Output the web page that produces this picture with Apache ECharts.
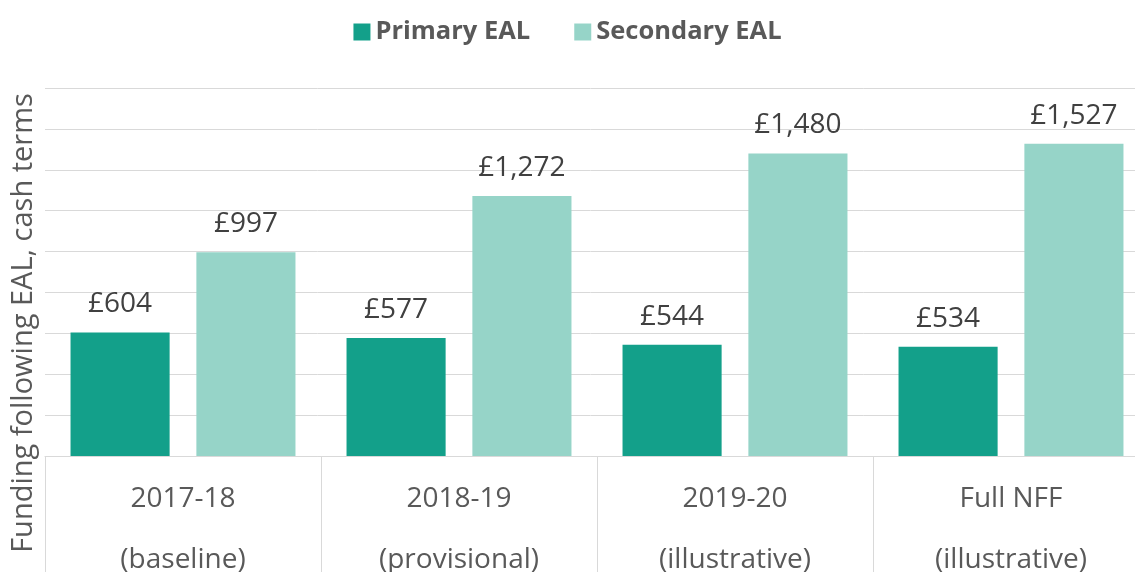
<!DOCTYPE html>
<html>
<head>
<meta charset="utf-8">
<script src="https://cdn.jsdelivr.net/npm/echarts@6/dist/echarts.min.js"></script>
<style>
  html, body { margin: 0; padding: 0; background: #fff; }
  #chart { width: 1135px; height: 572px; }
</style>
</head>
<body>
<div id="chart"></div>
<script>
// chart data
var categories = ['2017-18\n(baseline)', '2018-19\n(provisional)', '2019-20\n(illustrative)', 'Full NFF\n(illustrative)'];
var seriesNames = ['Primary EAL', 'Secondary EAL'];
var primaryValues = [604, 577, 544, 534];
var secondaryValues = [997, 1272, 1480, 1527];

var font = '"Open Sans", "Noto Sans", sans-serif';

function money(p) {
  return '£' + p.value.toLocaleString('en-GB');
}

var myChart = echarts.init(document.getElementById('chart'));
var option = {
  animation: false,
  textStyle: { fontFamily: font },
  legend: {
    top: 14,
    left: 'center',
    itemWidth: 17,
    itemHeight: 17,
    itemGap: 44,
    icon: 'rect',
    textStyle: { color: '#595959', fontSize: 25.5, fontWeight: 'bold', fontFamily: font },
    data: seriesNames
  },
  grid: { left: 45, right: -14, top: 88, bottom: 116, outerBoundsMode: 'none', containLabel: false },
  xAxis: {
    type: 'category',
    data: categories,
    axisLine: { lineStyle: { color: '#d9d9d9', width: 1 } },
    axisTick: { show: true, length: 130, lineStyle: { color: '#d9d9d9' } },
    axisLabel: { color: '#595959', fontSize: 28, lineHeight: 61, margin: 13, fontFamily: font }
  },
  yAxis: {
    type: 'value',
    min: 0,
    max: 1800,
    interval: 200,
    name: 'Funding following EAL, cash terms',
    nameLocation: 'middle',
    nameRotate: 90,
    nameGap: 7,
    nameTextStyle: { color: '#595959', fontSize: 29, fontFamily: font, padding: [0, 102, 0, 0] },
    axisLabel: { show: false },
    axisLine: { show: false },
    axisTick: { show: false },
    splitLine: { lineStyle: { color: '#d9d9d9' } }
  },
  series: [
    {
      name: seriesNames[0],
      type: 'bar',
      data: primaryValues,
      barGap: '27%',
      barCategoryGap: '18.5%',
      itemStyle: { color: '#13a08a' },
      label: { show: true, position: 'top', distance: 14, color: '#404040', fontSize: 28, fontFamily: font, formatter: money }
    },
    {
      name: seriesNames[1],
      type: 'bar',
      data: secondaryValues,
      barGap: '27%',
      barCategoryGap: '18.5%',
      itemStyle: { color: '#96d4c8' },
      label: { show: true, position: 'top', distance: 14, color: '#404040', fontSize: 28, fontFamily: font, formatter: money }
    }
  ]
};
myChart.setOption(option);
window.addEventListener('resize', () => {
  myChart.resize();
});
</script>
</body>
</html>
